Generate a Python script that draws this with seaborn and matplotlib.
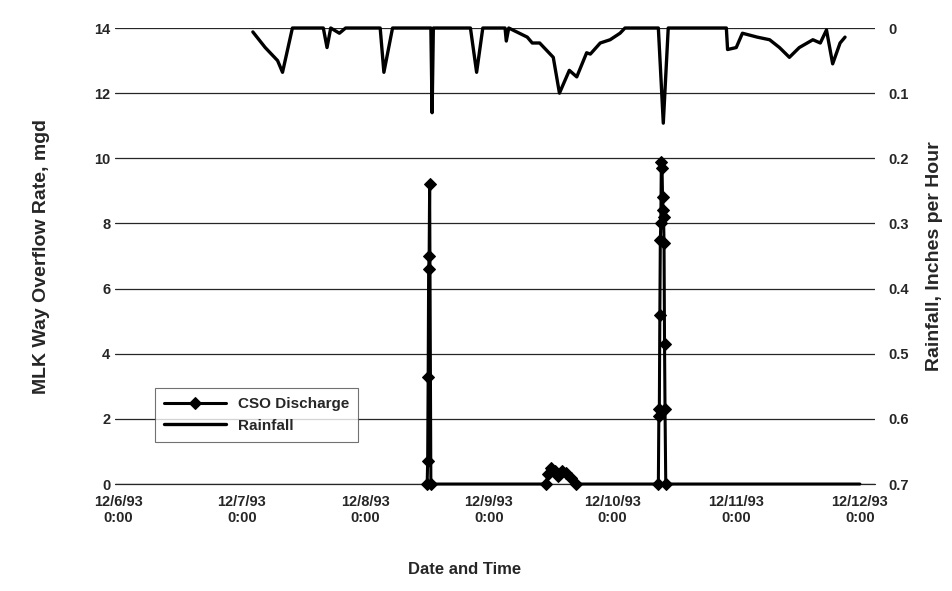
import matplotlib.pyplot as plt
import seaborn as sns

# time axis in days after 12/6/93 0:00
x_ticks = [0, 1, 2, 3, 4, 5, 6]
x_labels = ["12/6/93\n0:00", "12/7/93\n0:00", "12/8/93\n0:00", "12/9/93\n0:00",
            "12/10/93\n0:00", "12/11/93\n0:00", "12/12/93\n0:00"]

# CSO discharge, mgd
cso_days = [2.500, 2.504, 2.508, 2.512, 2.516, 2.520, 2.530,
            3.46, 3.48, 3.50, 3.53, 3.56, 3.59, 3.62, 3.66, 3.70,
            4.370, 4.374, 4.378, 4.382, 4.386, 4.390, 4.394, 4.400, 4.404,
            4.408, 4.412, 4.416, 4.420, 4.424, 4.430, 6.0]
cso_vals = [0.0, 0.7, 3.3, 6.6, 7.0, 9.2, 0.0,
            0.0, 0.3, 0.5, 0.4, 0.25, 0.4, 0.35, 0.2, 0.0,
            0.0, 2.1, 2.3, 5.2, 7.5, 8.0, 9.9, 9.7, 8.8,
            8.4, 8.2, 7.4, 4.3, 2.3, 0.0, 0.0]

# rainfall, inches per hour (plotted on an inverted right axis)
rain_days = [1.09, 1.19, 1.29, 1.33, 1.41, 1.66, 1.69, 1.72, 1.79, 1.84,
             2.12, 2.15, 2.22, 2.53, 2.54, 2.55, 2.85, 2.90, 2.95,
             3.13, 3.14, 3.16, 3.31, 3.35, 3.41, 3.52, 3.57, 3.65, 3.71,
             3.79, 3.82, 3.90, 3.98, 4.06, 4.10, 4.37, 4.41, 4.45,
             4.92, 4.93, 5.00, 5.05, 5.17, 5.27, 5.35, 5.43, 5.51, 5.62,
             5.68, 5.73, 5.78, 5.84, 5.88]
rain_vals = [0.006, 0.03, 0.05, 0.068, 0.0, 0.0, 0.03, 0.0, 0.008, 0.0,
             0.0, 0.068, 0.0, 0.0, 0.13, 0.0, 0.0, 0.068, 0.0,
             0.0, 0.02, 0.0, 0.014, 0.023, 0.023, 0.045, 0.1, 0.065, 0.075,
             0.038, 0.04, 0.023, 0.018, 0.008, 0.0, 0.0, 0.146, 0.0,
             0.0, 0.033, 0.03, 0.008, 0.014, 0.018, 0.03, 0.045, 0.03, 0.018,
             0.023, 0.003, 0.055, 0.023, 0.014]

left_ticks = [0, 2, 4, 6, 8, 10, 12, 14]
right_ticks = [0, 0.1, 0.2, 0.3, 0.4, 0.5, 0.6, 0.7]
right_labels = ["0", "0.1", "0.2", "0.3", "0.4", "0.5", "0.6", "0.7"]

sns.set_style("white")
plt.rcParams['font.family'] = ['Liberation Sans', 'DejaVu Sans']
plt.rcParams['font.weight'] = 'bold'

fig = plt.figure(figsize=(9.52, 5.91), dpi=100)
ax = fig.add_axes([0.1208, 0.181, 0.798, 0.7716])

sns.lineplot(x=cso_days, y=cso_vals, ax=ax, color='black', lw=2.2,
             marker='D', markersize=6.5, markeredgecolor='black',
             markevery=list(range(0, len(cso_days) - 1)),
             sort=False, estimator=None, label='CSO Discharge', clip_on=False)
ax.set_xlim(-0.025, 6.12)
ax.set_ylim(0, 14)
ax.set_yticks(left_ticks)
ax.set_xticks(x_ticks)
ax.set_xticklabels(x_labels)
ax.grid(axis='y', color='0.15', lw=0.9)
ax.grid(axis='x', visible=False)
ax.axhline(0, color='0.15', lw=0.9, clip_on=False, zorder=0.5)
ax.tick_params(length=0, labelsize=10.5)
ax.tick_params(axis='x', pad=8)
ax.set_xlabel('Date and Time', fontsize=12, fontweight='bold')
ax.xaxis.set_label_coords(0.46, -0.17)
ax.set_ylabel('MLK Way Overflow Rate, mgd', fontsize=14, fontweight='bold')
ax.yaxis.set_label_coords(-0.085, 0.5)

ax2 = ax.twinx()
sns.lineplot(x=rain_days, y=rain_vals, ax=ax2, color='black', lw=2.4,
             sort=False, estimator=None, label='Rainfall', clip_on=False)
ax2.set_ylim(0.7, 0)
ax2.set_yticks(right_ticks)
ax2.set_yticklabels(right_labels)
ax2.grid(False)
ax2.tick_params(length=0, labelsize=10.5, pad=10)
ax2.set_ylabel('Rainfall, Inches per Hour', fontsize=14, fontweight='bold')
ax2.yaxis.set_label_coords(1.068, 0.5)

for a in (ax, ax2):
    for s in a.spines.values():
        s.set_visible(False)

h1, l1 = ax.get_legend_handles_labels()
h2, l2 = ax2.get_legend_handles_labels()
ax.get_legend().remove()
ax2.get_legend().remove()
leg = ax2.legend(h1 + h2, l1 + l2, loc='upper left', bbox_to_anchor=(0.043, 0.228),
                 frameon=True, fancybox=False, edgecolor='0.3', handlelength=4,
                 fontsize=11, borderpad=0.6)
leg.get_frame().set_linewidth(0.8)

fig.savefig('out.png', dpi=100)
